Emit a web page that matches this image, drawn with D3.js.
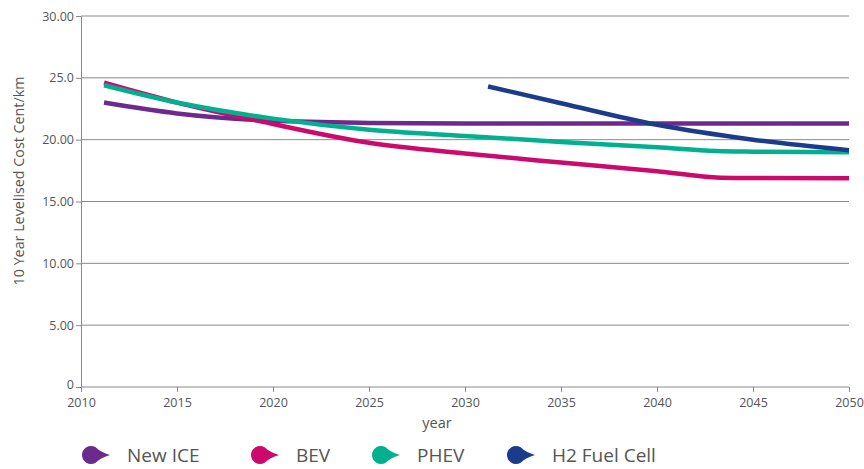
<!DOCTYPE html>
<html>
<head>
<meta charset="utf-8">
<script src="https://cdn.jsdelivr.net/npm/d3@7"></script>
<style>
  body { margin: 0; background: #fff; }
  text { font-family: "Open Sans", "Noto Sans", sans-serif; fill: #555; }
</style>
</head>
<body>
<div id="chart"></div>
<script>
// data
const seriesNames = ["New ICE", "BEV", "PHEV", "H2 Fuel Cell"]
const colors = ["#6c2a8e", "#cc0a6e", "#00b08f", "#1c3b8a"]

const iceYears = [2011.2, 2015, 2020, 2025, 2030, 2035, 2040, 2045, 2050]
const iceValues = [23.0, 22.12, 21.52, 21.35, 21.3, 21.3, 21.3, 21.3, 21.3]

const bevYears = [2011.2, 2015, 2019.3, 2025, 2030, 2035, 2040, 2043.3, 2045, 2050]
const bevValues = [24.6, 23.0, 21.5, 19.75, 18.88, 18.15, 17.45, 16.93, 16.9, 16.88]

const phevYears = [2011.2, 2015, 2020, 2025, 2030, 2035, 2040, 2043.1, 2045, 2050]
const phevValues = [24.4, 23.0, 21.7, 20.8, 20.3, 19.82, 19.38, 19.08, 19.03, 18.98]

const h2Years = [2031.2, 2035, 2040, 2045, 2050]
const h2Values = [24.3, 22.95, 21.2, 20.0, 19.15]

const xTicks = [2010, 2015, 2020, 2025, 2030, 2035, 2040, 2045, 2050]
const yTicks = [0, 5, 10, 15, 20, 25, 30]
const yTickLabels = ["0", "5.00", "10.00", "15.00", "20.00", "25.0", "30.00"]

const allSeries = [
  {name: seriesNames[0], years: iceYears, values: iceValues},
  {name: seriesNames[1], years: bevYears, values: bevValues},
  {name: seriesNames[2], years: phevYears, values: phevValues},
  {name: seriesNames[3], years: h2Years, values: h2Values}
]

const margin = ({top: 16, right: 15, bottom: 82, left: 81})
const width = 864 - margin.left - margin.right,
    height = 469 - margin.top - margin.bottom

const svg = d3.select("#chart").append("svg")
    .attr("width", 864)
    .attr("height", 469)
  .append("g")
    .attr("transform", "translate(" + margin.left + "," + margin.top + ")")

const xScale = d3.scaleLinear().domain([2010, 2050]).range([0, width])
const yScale = d3.scaleLinear().domain([0, 30]).range([height, 0])
const colorScale = d3.scaleOrdinal().domain(seriesNames).range(colors)

// grid + y axis
const yAxis = d3.axisLeft(yScale)
    .tickValues(yTicks)
    .tickSize(5)
    .tickPadding(2)
    .tickFormat((d, i) => yTickLabels[i])

const yG = svg.append("g").attr("class", "axis y-axis").call(yAxis)
yG.select(".domain").attr("stroke", "#8a8a8a")
yG.selectAll(".tick line").attr("stroke", "#8a8a8a")
yG.selectAll(".tick text").attr("font-size", 12.5).attr("fill", "#555")
  .attr("font-family", "'Open Sans', sans-serif")
// the "0" label sits a touch higher so it clears the 2010 label
yG.selectAll(".tick text").filter(d => d === 0).attr("dy", "0.1em")

svg.append("g")
  .selectAll("line")
  .data(yTicks.filter(d => d > 0))
  .join("line")
    .attr("x1", 0)
    .attr("x2", width)
    .attr("y1", d => yScale(d))
    .attr("y2", d => yScale(d))
    .attr("stroke", "#8a8a8a")
    .attr("stroke-width", 1)

// x axis
const xAxis = d3.axisBottom(xScale)
    .tickValues(xTicks)
    .tickFormat(d3.format("d"))
    .tickSize(5)
    .tickPadding(6)

const xG = svg.append("g")
    .attr("class", "axis x-axis")
    .attr("transform", "translate(0," + height + ")")
    .call(xAxis)
xG.select(".domain").attr("stroke", "#8a8a8a").attr("d", "M0,0H" + width)
xG.selectAll(".tick line").attr("stroke", "#8a8a8a")
xG.selectAll(".tick text").attr("font-size", 12.5).attr("fill", "#555")
  .attr("font-family", "'Open Sans', sans-serif")

// axis titles
svg.append("text")
    .attr("x", width / 2 - 28)
    .attr("y", height + 41)
    .attr("text-anchor", "middle")
    .attr("font-size", 14.5)
    .text("year")

svg.append("text")
    .attr("transform", "translate(" + (-57) + "," + 165 + ") rotate(-90)")
    .attr("text-anchor", "middle")
    .attr("font-size", 14.3)
    .text("10 Year Levelised Cost Cent/km")

// lines
const line = d3.line()
    .x(d => xScale(d[0]))
    .y(d => yScale(d[1]))
    .curve(d3.curveMonotoneX)

svg.selectAll(".series")
  .data(allSeries)
  .join("path")
    .attr("class", "series")
    .attr("fill", "none")
    .attr("stroke", d => colorScale(d.name))
    .attr("stroke-width", 4.5)
    .attr("d", d => line(d.years.map((y, i) => [y, d.values[i]])))

// legend
const legendX = [91, 260, 381, 516]
const marker = "M19,0 Q10,-2.5 4.3,-7.9 A9,9 0 1,0 4.3,7.9 Q10,2.5 19,0 Z"

const legend = d3.select("svg").append("g")
const items = legend.selectAll("g")
  .data(seriesNames)
  .join("g")
    .attr("transform", (d, i) => "translate(" + legendX[i] + ",455)")

items.append("path")
    .attr("d", marker)
    .attr("fill", d => colorScale(d))

items.append("text")
    .attr("x", 36)
    .attr("y", 7)
    .attr("font-size", 19)
    .attr("fill", "#555")
    .text(d => d)
</script>
</body>
</html>
